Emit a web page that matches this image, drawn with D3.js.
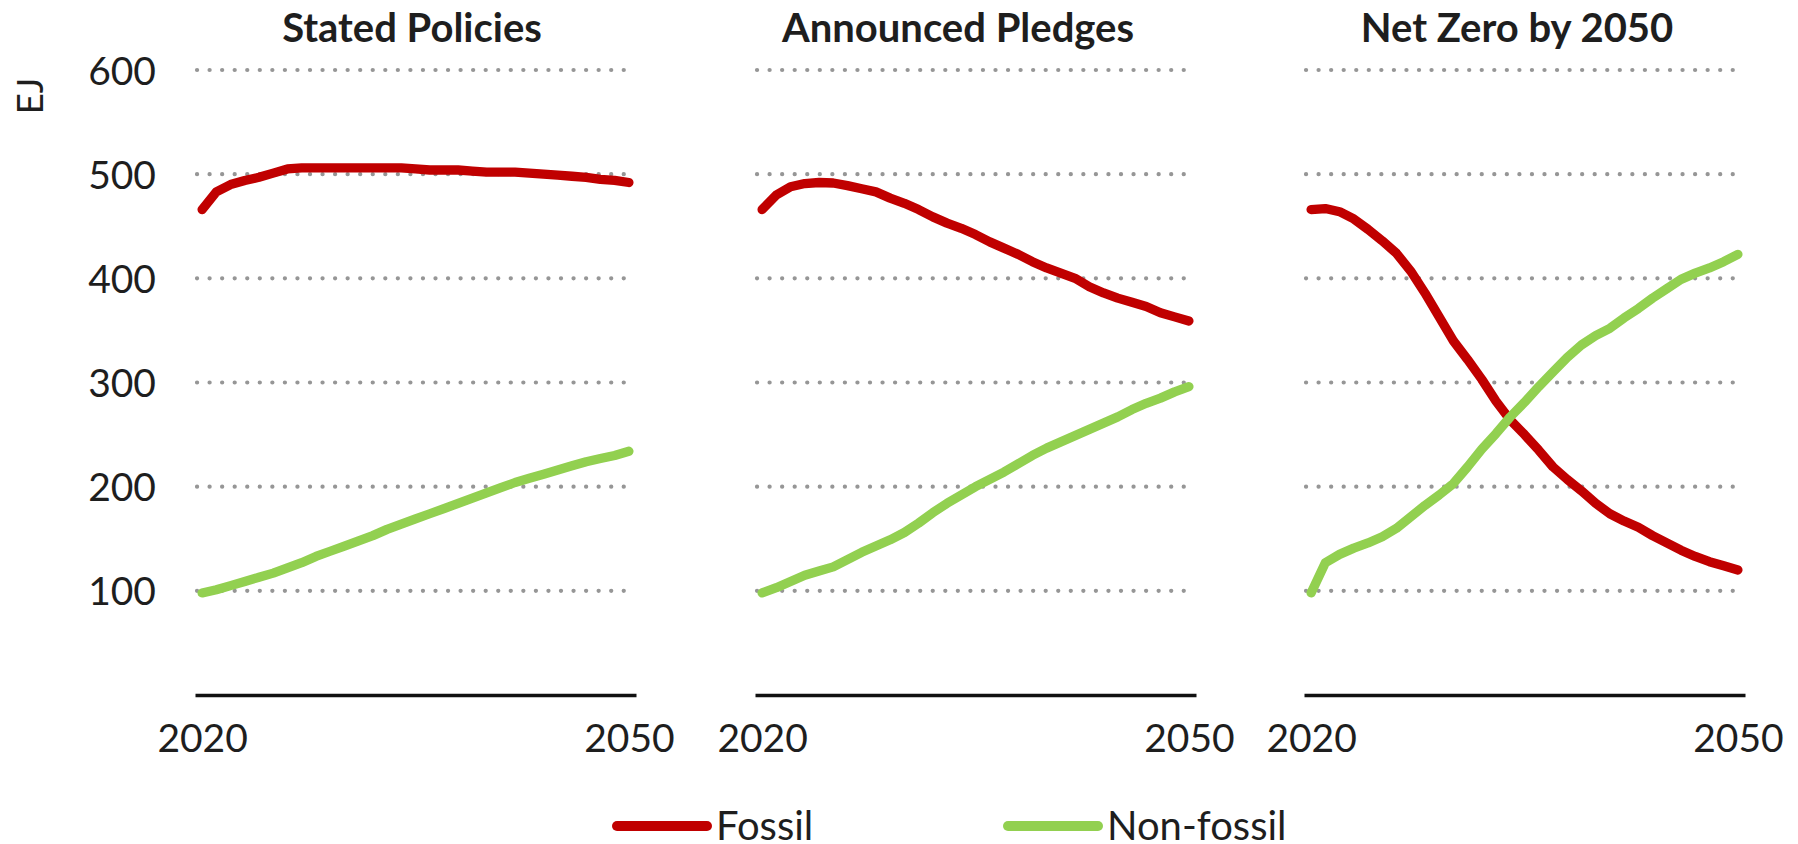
<!DOCTYPE html>
<html>
<head>
<meta charset="utf-8">
<script src="https://cdn.jsdelivr.net/npm/d3@7"></script>
<style>
  html, body { margin: 0; padding: 0; background: #fff; }
  svg { display: block; }
  text { font-family: Lato, "Open Sans", sans-serif; fill: #1e1e1e; }
</style>
</head>
<body>
<svg id="chart" width="1798" height="844"></svg>
<script>
// ---------------- data ----------------
const years = d3.range(2020, 2051);
const scenarios = ["Stated Policies", "Announced Pledges", "Net Zero by 2050"];
const seriesNames = ["Fossil", "Non-fossil"];
const yTicks = [100, 200, 300, 400, 500, 600];
const xTicks = [2020, 2050];
const unitLabel = "EJ";

const fossilSTEPS = [466,483,490,494,497,501,505,506,506,506,506,506,506,506,506,505,504,504,504,503,502,502,502,501,500,499,498,497,495,494,492];
const nonFossilSTEPS = [98,101,105,109,113,117,122,127,133,138,143,148,153,159,164,169,174,179,184,189,194,199,204,208,212,216,220,224,227,230,234];

const fossilAPS = [466,480,488,491,492,491.5,489,486,483,477,472,466,459,453,448,442,435,429,423,416,410,405,400,392,386,381,377,373,367,363,359];
const nonFossilAPS = [98,103,109,115,119,123,130,137,143,149,156,165,175,184,192,200,207,214,222,230,237,243,249,255,261,267,274,280,285,291,296];

const fossilNZE = [466,467,464,457,447,436,424,407,386,363,340,322,303,282,264,250,235,219,207,196,184,174,167,161,153,146,139,133,128,124,120];
const nonFossilNZE = [98,127,135,141,146,152,160,171,182,192,203,219,236,251,267,281,296,310,324,336,345,352,362,371,381,390,399,405,410,416,423];

const panelSeries = [
  [fossilSTEPS, nonFossilSTEPS],
  [fossilAPS, nonFossilAPS],
  [fossilNZE, nonFossilNZE]
];
const colors = ["#C00000", "#92D050"];

// ---------------- layout ----------------
const svg = d3.select("#chart");
const panelX0 = [195, 755, 1304];
const panelW = 441;
const titleX = [412, 958, 1517];

const y = d3.scaleLinear().domain([0, 600]).range([695, 70]);

panelSeries.forEach((series, i) => {
  const x = d3.scalePoint().domain(years).range([panelX0[i], panelX0[i] + panelW]).padding(0.5);
  const g = svg.append("g");

  // dotted gridlines
  g.selectAll("line.grid").data(yTicks).join("line")
    .attr("class", "grid")
    .attr("x1", panelX0[i] + 2).attr("x2", panelX0[i] + panelW - 2)
    .attr("y1", d => y(d)).attr("y2", d => y(d))
    .attr("stroke", "#969696").attr("stroke-width", 4.2)
    .attr("stroke-linecap", "round")
    .attr("stroke-dasharray", "0.1 12.45");

  // x axis
  const xAxis = d3.axisBottom(x).tickValues(xTicks).tickSize(0).tickSizeOuter(0);
  const ax = g.append("g").attr("transform", `translate(0,${y(0)})`).call(xAxis);
  ax.select(".domain").attr("stroke", "#111").attr("stroke-width", 3.6);
  ax.selectAll(".tick text")
    .attr("y", 57).attr("dy", 0)
    .style("font-family", "Lato, sans-serif")
    .style("font-size", "39px").attr("fill", "#1e1e1e");

  // lines
  const line = d3.line().x((d, k) => x(years[k])).y(d => y(d));
  series.forEach((vals, s) => {
    g.append("path").datum(vals)
      .attr("d", line)
      .attr("fill", "none")
      .attr("stroke", colors[s])
      .attr("stroke-width", 9.3)
      .attr("stroke-linejoin", "round")
      .attr("stroke-linecap", "round");
  });

  // title
  svg.append("text")
    .attr("x", titleX[i]).attr("y", 42)
    .attr("text-anchor", "middle")
    .style("font-weight", "bold").style("font-size", "40px")
    .attr("fill", "#111")
    .text(scenarios[i]);
});

// y axis labels
const yAxis = d3.axisLeft(y).tickValues(yTicks).tickSize(0).tickPadding(0);
const yg = svg.append("g").attr("transform", "translate(156,0)").call(yAxis);
yg.select(".domain").remove();
yg.selectAll(".tick text")
  .style("font-family", "Lato, sans-serif")
  .style("font-size", "39px").attr("fill", "#1e1e1e")
  .attr("dy", "0.36em");

// unit label
svg.append("text")
  .attr("transform", "translate(43,96) rotate(-90)")
  .attr("text-anchor", "middle")
  .style("font-size", "37px")
  .text(unitLabel);

// legend
const legendX = [617, 1008];
const legend = svg.append("g");
seriesNames.forEach((name, s) => {
  legend.append("line")
    .attr("x1", legendX[s]).attr("x2", legendX[s] + 90)
    .attr("y1", 826).attr("y2", 826)
    .attr("stroke", colors[s]).attr("stroke-width", 10)
    .attr("stroke-linecap", "round");
  legend.append("text")
    .attr("x", legendX[s] + 99).attr("y", 840)
    .style("font-size", "40px")
    .text(name);
});
</script>
</body>
</html>
